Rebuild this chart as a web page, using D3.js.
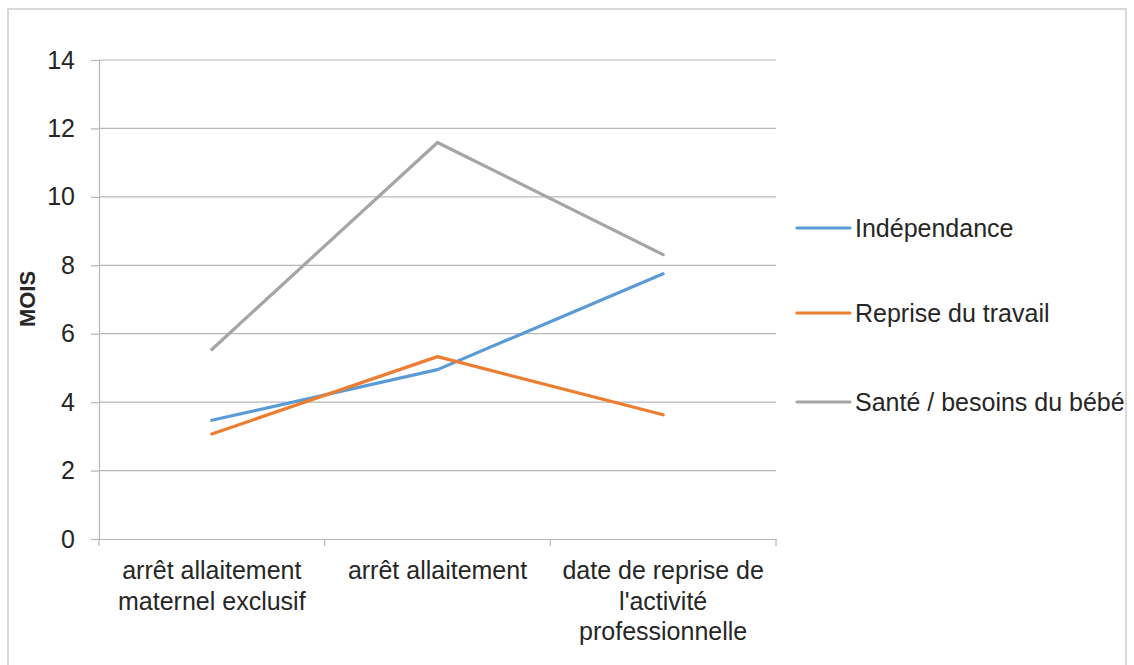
<!DOCTYPE html>
<html>
<head>
<meta charset="utf-8">
<script src="https://cdn.jsdelivr.net/npm/d3@7"></script>
<style>
  html, body { margin: 0; padding: 0; background: #fff; }
  svg text { font-family: "Liberation Sans", Arial, sans-serif; fill: #262626; }
</style>
</head>
<body>
<svg id="chart" width="1134" height="665"></svg>
<script>
const categories = [
  "arrêt allaitement\nmaternel exclusif",
  "arrêt allaitement",
  "date de reprise de\nl'activité\nprofessionnelle"
];
const seriesNames = ["Indépendance", "Reprise du travail", "Santé / besoins du bébé"];
const independance = [3.47, 4.95, 7.75];
const repriseTravail = [3.07, 5.33, 3.63];
const santeBebe = [5.54, 11.59, 8.31];
const yTicks = [0, 2, 4, 6, 8, 10, 12, 14];
const yTitle = "MOIS";

const colors = ["#5B9BD5", "#ED7D31", "#A5A5A5"];
const seriesValues = [independance, repriseTravail, santeBebe];

const svg = d3.select("#chart");
const margin = { left: 99, right: 776, top: 60, bottom: 539 };

// outer border
svg.append("rect")
  .attr("x", 8).attr("y", 9).attr("width", 1118).attr("height", 670)
  .attr("fill", "none").attr("stroke", "#d9d9d9").attr("stroke-width", 2);

const x = d3.scaleBand().domain(categories).range([margin.left, margin.right]);
const y = d3.scaleLinear().domain([0, 14]).range([margin.bottom, margin.top]);

// gridlines
svg.append("g").selectAll("line").data(yTicks.filter(d => d > 0)).join("line")
  .attr("x1", margin.left).attr("x2", margin.right)
  .attr("y1", d => y(d)).attr("y2", d => y(d))
  .attr("stroke", "#b7b7b7").attr("stroke-width", 1.2);

// y axis
const yAxis = svg.append("g").attr("transform", `translate(${margin.left},0)`)
  .call(d3.axisLeft(y).tickValues(yTicks).tickSize(8).tickPadding(16));
yAxis.select(".domain").attr("stroke", "#b7b7b7").attr("stroke-width", 1.2);
yAxis.selectAll(".tick line").attr("stroke", "#b7b7b7").attr("stroke-width", 1.2);
yAxis.selectAll(".tick text").style("font-size", "25px").style("font-family", "'Liberation Sans', Arial, sans-serif").attr("fill", "#262626");

// x axis
const xAxis = svg.append("g").attr("transform", `translate(0,${margin.bottom})`)
  .call(d3.axisBottom(x).tickSize(0).tickFormat(""));
xAxis.select(".domain").attr("stroke", "#b7b7b7").attr("stroke-width", 1.2);
xAxis.selectAll(".tick").remove();
// category boundary ticks
const bounds = categories.map(c => x(c)).concat([x(categories[categories.length - 1]) + x.bandwidth()]);
xAxis.selectAll("line.b").data(bounds).join("line").attr("class", "b")
  .attr("x1", d => d).attr("x2", d => d).attr("y1", 0).attr("y2", 7)
  .attr("stroke", "#b7b7b7").attr("stroke-width", 1.2);

// category labels
categories.forEach(c => {
  const lines = c.split("\n");
  const t = svg.append("text")
    .attr("x", x(c) + x.bandwidth() / 2)
    .attr("y", 579)
    .attr("text-anchor", "middle")
    .style("font-size", "25px");
  lines.forEach((ln, i) => {
    t.append("tspan").attr("x", x(c) + x.bandwidth() / 2).attr("y", 579 + i * 30.5).text(ln);
  });
});

// y title
svg.append("text")
  .attr("transform", `translate(35,299) rotate(-90)`)
  .attr("text-anchor", "middle")
  .style("font-size", "22px").style("font-weight", "bold")
  .text(yTitle);

// lines
const line = d3.line()
  .x((d, i) => x(categories[i]) + x.bandwidth() / 2)
  .y(d => y(d));
seriesValues.forEach((vals, k) => {
  svg.append("path").datum(vals)
    .attr("d", line)
    .attr("fill", "none")
    .attr("stroke", colors[k])
    .attr("stroke-width", 3.2)
    .attr("stroke-linecap", "round")
    .attr("stroke-linejoin", "round");
});

// legend
const legendY = [228, 313, 402];
seriesNames.forEach((name, k) => {
  svg.append("line")
    .attr("x1", 797).attr("x2", 850)
    .attr("y1", legendY[k]).attr("y2", legendY[k])
    .attr("stroke", colors[k]).attr("stroke-width", 3.2).attr("stroke-linecap", "round");
  svg.append("text")
    .attr("x", 855).attr("y", legendY[k])
    .attr("dy", "0.35em")
    .style("font-size", "25px")
    .text(name);
});
</script>
</body>
</html>
